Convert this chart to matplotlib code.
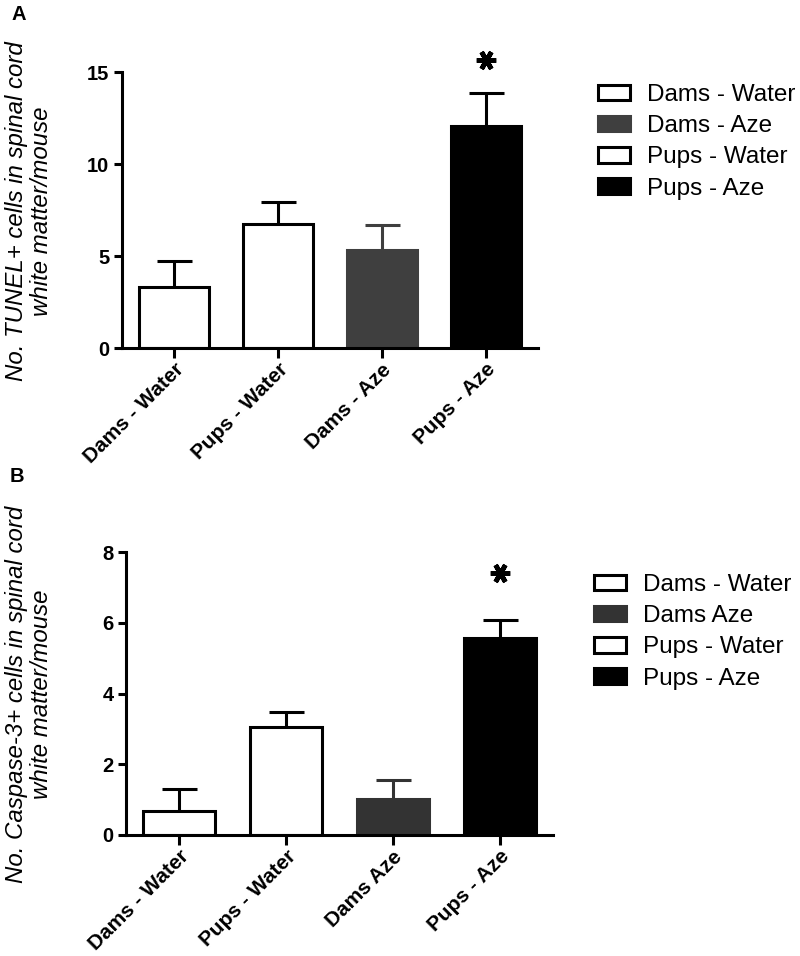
import numpy as np
import matplotlib
matplotlib.use("Agg")
import matplotlib.pyplot as plt

plt.rcParams['font.family'] = ['Liberation Sans', 'DejaVu Sans']

# ---------------- data ----------------
categories_a = ["Dams - Water", "Pups - Water", "Dams - Aze", "Pups - Aze"]
means_a = [3.3, 6.75, 5.33, 12.07]
sem_a = [1.43, 1.2, 1.37, 1.8]
legend_a = ["Dams - Water", "Dams - Aze", "Pups - Water", "Pups - Aze"]
yticks_a = [0, 5, 10, 15]

categories_b = ["Dams - Water", "Pups - Water", "Dams Aze", "Pups - Aze"]
means_b = [0.68, 3.05, 1.01, 5.58]
sem_b = [0.62, 0.42, 0.55, 0.5]
legend_b = ["Dams - Water", "Dams Aze", "Pups - Water", "Pups - Aze"]
yticks_b = [0, 2, 4, 6, 8]

ylabel_a = "No. TUNEL+ cells in spinal cord\nwhite matter/mouse"
ylabel_b = "No. Caspase-3+ cells in spinal cord\nwhite matter/mouse"

W, H = 800, 956
fig = plt.figure(figsize=(W / 100, H / 100), dpi=100)

LW = 2.2


def panel(rect, cats, means, sems, yticks, dark, legend_labels, legend_xy, star_y):
    ax = fig.add_axes(rect)
    x = np.arange(len(cats))
    fills = ['white', 'white', dark, 'black']
    edges = ['black', 'black', dark, 'black']
    bars = []
    for i in range(len(cats)):
        ax.errorbar(x[i], means[i], yerr=sems[i], fmt='none', ecolor=edges[i],
                    elinewidth=LW, capsize=12.6, capthick=LW, zorder=1)
        b = ax.bar(x[i], means[i], width=0.675, color=fills[i], edgecolor=edges[i],
                   linewidth=LW, zorder=2)
        bars.append(b[0])
    ax.set_xlim(-0.5, len(cats) - 0.5)
    ax.set_ylim(yticks[0], yticks[-1])
    ax.set_yticks(yticks)
    ax.set_xticks(x)
    ax.set_xticklabels(cats, rotation=45, ha='right', va='top', rotation_mode='anchor',
                       fontsize=15, fontweight='bold')
    for lab in ax.get_yticklabels():
        lab.set_fontweight('bold')
        lab.set_fontsize(14.5)
    for s in ['top', 'right']:
        ax.spines[s].set_visible(False)
    for s in ['left', 'bottom']:
        ax.spines[s].set_linewidth(LW)
    ax.tick_params(axis='both', direction='out', width=LW, length=6, pad=3)
    ax.tick_params(axis='x', length=7, pad=1.5)
    # asterisk over the last bar
    ax.plot(x[-1], star_y, marker=(6, 2, 90), ms=14, mew=3.4, color='black',
            clip_on=False, zorder=5)
    # legend (order as in original)
    order = [0, 2, 1, 3]
    handles = [bars[i] for i in order]
    fig.legend(handles, legend_labels, loc='upper left',
               bbox_to_anchor=(legend_xy[0] / W, 1 - legend_xy[1] / H),
               frameon=False, fontsize=17.5, handlelength=1.33, handleheight=0.6,
               handletextpad=0.7, labelspacing=0.38, borderaxespad=0, borderpad=0)
    return ax


ax_a = panel([122 / W, 1 - 348 / H, 416 / W, 276 / H], categories_a, means_a, sem_a,
             yticks_a, '#3f3f3f', legend_a, (598, 84), 15.65)
ax_b = panel([126 / W, 1 - 835 / H, 427 / W, 283 / H], categories_b, means_b, sem_b,
             yticks_b, '#333333', legend_b, (594, 574), 7.41)

fig.text(29 / W, 1 - 211 / H, ylabel_a, rotation=90, ha='center', va='center',
         fontsize=17.3, style='italic', linespacing=1.15)
fig.text(29 / W, 1 - 694 / H, ylabel_b, rotation=90, ha='center', va='center',
         fontsize=17.3, style='italic', linespacing=1.15)

fig.text(11 / W, 1 - 20 / H, 'A', fontsize=14.5, fontweight='bold', va='baseline')
fig.text(10 / W, 1 - 482 / H, 'B', fontsize=14.5, fontweight='bold', va='baseline')

fig.savefig('out.png', dpi=100)
